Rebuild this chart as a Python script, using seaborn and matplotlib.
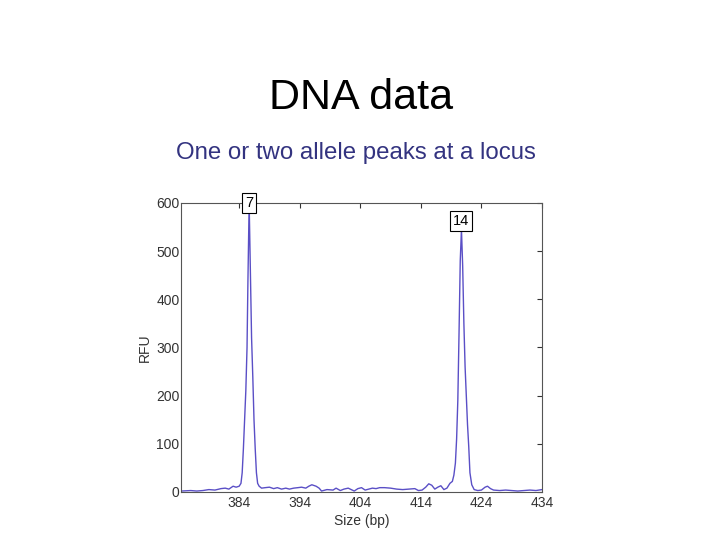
import matplotlib
matplotlib.use("Agg")
import matplotlib.pyplot as plt
import seaborn as sns
import pandas as pd

# ---- data ----
size_bp = [374.5, 376, 377, 378, 379, 380, 381, 381.7, 382.3, 383, 383.5, 384, 384.3,
           384.5, 384.7, 384.9, 385.1, 385.3, 385.45, 385.65, 385.85, 386.05, 386.25, 386.45, 386.65, 386.85, 387.05,
           387.3, 387.7, 388.3, 389, 389.7, 390.3, 391, 391.7, 392.3, 393, 393.7, 394.3, 395, 395.5, 396, 396.7,
           397.2, 397.6, 398.5, 399.5, 400, 400.7, 401.3, 402, 402.5, 403, 403.6, 404.2, 404.8, 405.4, 406, 406.6,
           407.2, 408, 409, 410, 411, 412, 413, 413.6, 414.2, 414.8, 415.3, 415.8, 416.3, 416.8, 417.3, 417.8,
           418.3, 418.8, 419.2,
           419.45, 419.7, 419.9, 420.1, 420.3, 420.5, 420.7, 420.9, 421.1, 421.3, 421.5, 421.7, 421.9, 422.1, 422.4,
           422.8, 423.4, 424, 424.6, 425, 425.5, 426, 427, 428, 429, 430, 431, 432, 433, 434]
rfu = [2, 3, 2, 3, 5, 4, 7, 8, 6, 12, 10, 12, 18,
       40, 90, 150, 210, 300, 440, 600, 460, 320, 240, 150, 90, 40, 18,
       12, 8, 9, 10, 7, 9, 6, 8, 6, 8, 9, 10, 8, 12, 15, 12,
       8, 2, 5, 4, 8, 3, 6, 8, 5, 2, 7, 9, 4, 6, 8, 7,
       9, 9, 8, 6, 5, 6, 7, 3, 4, 10, 17, 14, 6, 10, 13, 5,
       8, 18, 22,
       35, 60, 110, 190, 330, 480, 545, 470, 350, 260, 200, 140, 95, 40, 15,
       5, 3, 4, 10, 12, 7, 4, 3, 4, 3, 2, 3, 4, 3, 5]
allele_labels = ["7", "14"]
allele_x = [385.65, 420.7]
allele_y = [600, 562]
x_ticks = [384, 394, 404, 414, 424, 434]
y_ticks = [0, 100, 200, 300, 400, 500, 600]

df = pd.DataFrame({"Size (bp)": size_bp, "RFU": rfu})

sns.set_theme(style="white")
plt.rcParams["font.family"] = ["Liberation Sans", "DejaVu Sans"]

fig = plt.figure(figsize=(7.2, 5.4), dpi=100)
ax = fig.add_axes([0.2514, 0.0889, 0.5014, 0.5352])

sns.lineplot(data=df, x="Size (bp)", y="RFU", ax=ax, color="#5a4fc6",
             linewidth=1.0, sort=False, estimator=None)

for lab, lx, ly in zip(allele_labels, allele_x, allele_y):
    ax.text(lx, ly, lab, ha="center", va="center", fontsize=10.5, color="black",
            bbox=dict(boxstyle="square,pad=0.2", facecolor="white", edgecolor="black", linewidth=0.8))

ax.set_xlim(374.4, 434)
ax.set_ylim(0, 600)
ax.set_xticks(x_ticks)
ax.set_yticks(y_ticks)
ax.tick_params(direction="in", length=3.5, width=0.8, top=True, right=True,
               labelsize=10, labelcolor="#333333", color="#333333", pad=3)
ax.tick_params(axis="y", pad=1)
for s in ax.spines.values():
    s.set_color("#555555")
    s.set_linewidth(0.8)
ax.set_xlabel("Size (bp)", fontsize=10, color="#333333", labelpad=3)
ax.set_ylabel("RFU", fontsize=10, color="#333333", labelpad=3)

fig.text(0.502, 0.818, "DNA data", ha="center", va="center", fontsize=31, color="black")
fig.text(0.494, 0.716, "One or two allele peaks at a locus", ha="center", va="center",
         fontsize=17.3, color="#333380")

fig.savefig("out.png", dpi=100, facecolor="white")
